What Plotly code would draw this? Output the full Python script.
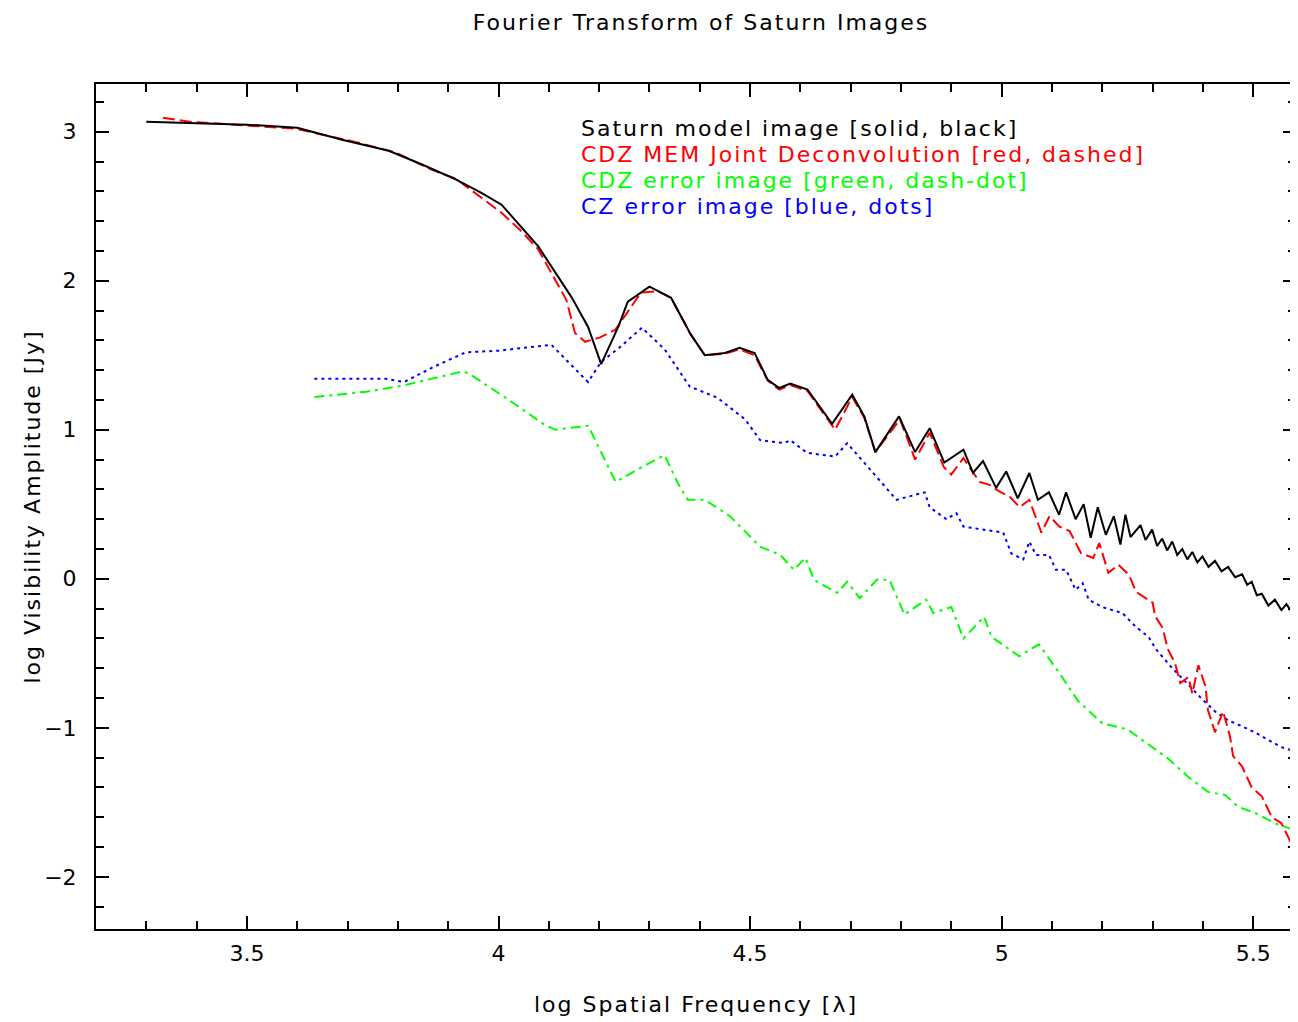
import plotly.graph_objects as go

# ---- data (log spatial frequency, log visibility amplitude) ----
model_x = [3.30, 3.40, 3.50, 3.60, 3.689, 3.782, 3.848, 3.915, 3.966, 4.006, 4.079, 4.145, 4.178, 4.204,
           4.238, 4.257, 4.30, 4.343, 4.382, 4.41, 4.45, 4.479, 4.509, 4.535, 4.558, 4.58, 4.614, 4.663,
           4.703, 4.727, 4.749, 4.796, 4.828, 4.857, 4.886, 4.924, 4.943, 4.963, 4.989, 5.009, 5.032,
           5.055, 5.072, 5.094, 5.114, 5.128, 5.147, 5.163, 5.177, 5.191, 5.207, 5.223, 5.236, 5.246,
           5.256, 5.276, 5.286, 5.299, 5.309, 5.319, 5.329, 5.339, 5.349, 5.359, 5.369, 5.379, 5.389,
           5.399, 5.411, 5.424, 5.437, 5.45, 5.464, 5.478, 5.488, 5.497, 5.507, 5.517, 5.53, 5.543,
           5.556, 5.566, 5.576, 5.585]
model_y = [3.067, 3.055, 3.047, 3.027, 2.946, 2.872, 2.78, 2.68, 2.59, 2.51, 2.23, 1.89, 1.69, 1.44,
           1.69, 1.86, 1.96, 1.885, 1.64, 1.50, 1.515, 1.55, 1.515, 1.335, 1.28, 1.31, 1.27, 1.04,
           1.235, 1.09, 0.85, 1.09, 0.85, 1.01, 0.78, 0.866, 0.71, 0.79, 0.61, 0.72, 0.54,
           0.71, 0.53, 0.58, 0.43, 0.58, 0.40, 0.50, 0.275, 0.48, 0.295, 0.42, 0.23, 0.43,
           0.28, 0.36, 0.26, 0.33, 0.22, 0.27, 0.19, 0.25, 0.16, 0.20, 0.13, 0.18, 0.11,
           0.15, 0.08, 0.12, 0.05, 0.08, 0.01, 0.03, -0.04, -0.02, -0.11, -0.10, -0.18, -0.14,
           -0.21, -0.17, -0.22, -0.19]

mem_x = [3.333, 3.386, 3.505, 3.598, 3.65, 3.717, 3.796, 3.867, 3.915, 3.98, 4.006, 4.046, 4.079,
         4.135, 4.152, 4.172, 4.202, 4.232, 4.257, 4.283, 4.317, 4.343, 4.382, 4.41, 4.45, 4.479,
         4.509, 4.535, 4.558, 4.58, 4.614, 4.669, 4.703, 4.727, 4.749, 4.798, 4.828, 4.845, 4.857,
         4.885, 4.90, 4.924, 4.956, 4.976, 4.996, 5.016, 5.036, 5.055, 5.079, 5.095, 5.115, 5.135,
         5.158, 5.182, 5.194, 5.212, 5.232, 5.253, 5.267, 5.30, 5.305, 5.32, 5.33, 5.345, 5.355,
         5.371, 5.379, 5.391, 5.405, 5.41, 5.424, 5.44, 5.454, 5.46, 5.478, 5.497, 5.517, 5.537,
         5.556, 5.572, 5.585]
mem_y = [3.094, 3.067, 3.04, 3.02, 2.98, 2.93, 2.86, 2.745, 2.685, 2.52, 2.456, 2.33, 2.21,
         1.87, 1.65, 1.59, 1.62, 1.67, 1.79, 1.92, 1.93, 1.885, 1.64, 1.50, 1.51, 1.54,
         1.50, 1.33, 1.27, 1.30, 1.26, 1.00, 1.22, 1.08, 0.85, 1.07, 0.80, 0.91, 0.98,
         0.75, 0.70, 0.81, 0.65, 0.63, 0.585, 0.55, 0.48, 0.53, 0.31, 0.42, 0.35, 0.32,
         0.17, 0.14, 0.24, 0.04, 0.094, 0.027, -0.087, -0.16, -0.25, -0.33, -0.47, -0.57, -0.70,
         -0.66, -0.77, -0.58, -0.72, -0.88, -1.03, -0.89, -1.06, -1.19, -1.26, -1.40, -1.46, -1.60,
         -1.64, -1.75, -1.90]

cdz_err_x = [3.634, 3.69, 3.737, 3.808, 3.867, 3.927, 3.94, 4.014, 4.093, 4.113, 4.178, 4.233,
             4.28, 4.33, 4.356, 4.376, 4.41, 4.46, 4.52, 4.56, 4.587, 4.61, 4.627, 4.673, 4.693,
             4.718, 4.752, 4.777, 4.807, 4.85, 4.864, 4.88, 4.90, 4.924, 4.965, 4.98, 5.035, 5.074,
             5.114, 5.152, 5.20, 5.25, 5.292, 5.332, 5.371, 5.41, 5.444, 5.47, 5.503, 5.543, 5.585]
cdz_err_y = [1.22, 1.24, 1.255, 1.295, 1.342, 1.39, 1.38, 1.215, 1.03, 1.00, 1.027, 0.65,
             0.74, 0.83, 0.644, 0.53, 0.53, 0.42, 0.215, 0.16, 0.06, 0.14, -0.007, -0.094, -0.02,
             -0.13, -0.007, -0.007, -0.24, -0.14, -0.23, -0.21, -0.19, -0.40, -0.255, -0.39, -0.52, -0.44,
             -0.63, -0.82, -0.97, -1.01, -1.11, -1.21, -1.33, -1.43, -1.45, -1.53, -1.57, -1.64, -1.69]

cz_err_x = [3.634, 3.776, 3.812, 3.87, 3.935, 4.0, 4.05, 4.105, 4.14, 4.178, 4.204, 4.24, 4.285,
            4.33, 4.38, 4.435, 4.49, 4.52, 4.568, 4.58, 4.613, 4.669, 4.693, 4.752, 4.791, 4.847,
            4.857, 4.89, 4.91, 4.924, 4.963, 5.003, 5.019, 5.043, 5.055, 5.068, 5.094, 5.108, 5.128,
            5.147, 5.161, 5.173, 5.20, 5.24, 5.266, 5.292, 5.306, 5.339, 5.371, 5.399, 5.424, 5.45,
            5.478, 5.503, 5.529, 5.556, 5.585]
cz_err_y = [1.342, 1.342, 1.32, 1.42, 1.52, 1.53, 1.55, 1.57, 1.45, 1.32, 1.456, 1.55, 1.685,
            1.54, 1.29, 1.215, 1.07, 0.93, 0.91, 0.93, 0.845, 0.82, 0.91, 0.685, 0.53, 0.58,
            0.48, 0.40, 0.44, 0.35, 0.33, 0.31, 0.17, 0.13, 0.25, 0.16, 0.16, 0.06, 0.06,
            -0.074, -0.03, -0.14, -0.19, -0.23, -0.32, -0.39, -0.47, -0.60, -0.71, -0.81, -0.89, -0.95,
            -0.99, -1.03, -1.08, -1.13, -1.16]

legend_lines = [
    ("Saturn model image [solid, black]", "#000000"),
    ("CDZ MEM Joint Deconvolution [red, dashed]", "#ff0000"),
    ("CDZ error image [green, dash-dot]", "#00ff00"),
    ("CZ error image [blue, dots]", "#0000ff"),
]

x_tickvals = [3.5, 4, 4.5, 5, 5.5]
x_ticktext = ["3.5", "4", "4.5", "5", "5.5"]
y_tickvals = [-2, -1, 0, 1, 2, 3]
y_ticktext = ["\u22122", "\u22121", "0", "1", "2", "3"]

FONT = "DejaVu Sans"
TXT = 22


def spaced(s):
    return "<span style='letter-spacing:2px'>" + s + "</span>"


fig = go.Figure()
fig.add_trace(go.Scatter(x=cz_err_x, y=cz_err_y, mode="lines",
                         line=dict(color="#0000ff", width=2, dash="3px,4px")))
fig.add_trace(go.Scatter(x=cdz_err_x, y=cdz_err_y, mode="lines",
                         line=dict(color="#00ff00", width=2, dash="10px,5px,3px,5px")))
fig.add_trace(go.Scatter(x=mem_x, y=mem_y, mode="lines",
                         line=dict(color="#ff0000", width=2, dash="12px,5px")))
fig.add_trace(go.Scatter(x=model_x, y=model_y, mode="lines",
                         line=dict(color="#000000", width=2)))

for i, (txt, col) in enumerate(legend_lines):
    fig.add_annotation(x=4.16, y=3.02 - i * 0.175, xref="x", yref="y", text=spaced(txt),
                       showarrow=False, xanchor="left", yanchor="middle",
                       font=dict(family=FONT, size=TXT, color=col))

# y-axis title as a rotated annotation for precise placement
fig.add_annotation(x=-64 / 1202, y=0.5, xref="paper", yref="paper",
                   text=spaced("log Visibility Amplitude [Jy]"), textangle=-90,
                   showarrow=False, xanchor="center", yanchor="middle",
                   font=dict(family=FONT, size=TXT, color="black"))

axis_common = dict(showgrid=False, zeroline=False, showline=True, linecolor="black",
                   linewidth=2, mirror="ticks", ticks="inside", tickcolor="black",
                   tickwidth=2, ticklen=13,
                   tickfont=dict(family=FONT, size=22, color="black"))

fig.update_xaxes(range=[3.2, 5.585], tickvals=x_tickvals, ticktext=x_ticktext,
                 minor=dict(dtick=0.1, tick0=3.2, ticks="inside", ticklen=8, tickwidth=2,
                            tickcolor="black", showgrid=False),
                 title=dict(text=spaced("log Spatial Frequency [\u03bb]"), standoff=31,
                            font=dict(family=FONT, size=TXT, color="black")),
                 ticklabelstandoff=4, **axis_common)
fig.update_yaxes(range=[-2.35, 3.32], tickvals=y_tickvals, ticktext=y_ticktext,
                 minor=dict(dtick=0.2, tick0=0, ticks="inside", ticklen=8, tickwidth=2,
                            tickcolor="black", showgrid=False),
                 ticklabelstandoff=13, **axis_common)

fig.update_layout(
    width=1290, height=1014,
    margin=dict(l=88, r=0, t=76, b=93),
    paper_bgcolor="white", plot_bgcolor="white",
    showlegend=False,
    title=dict(text=spaced("Fourier Transform of Saturn Images"), x=693 / 1290, xanchor="center",
               y=1 - 14 / 1014, yanchor="middle",
               font=dict(family=FONT, size=TXT, color="black")),
)

fig.write_html("out.html")
